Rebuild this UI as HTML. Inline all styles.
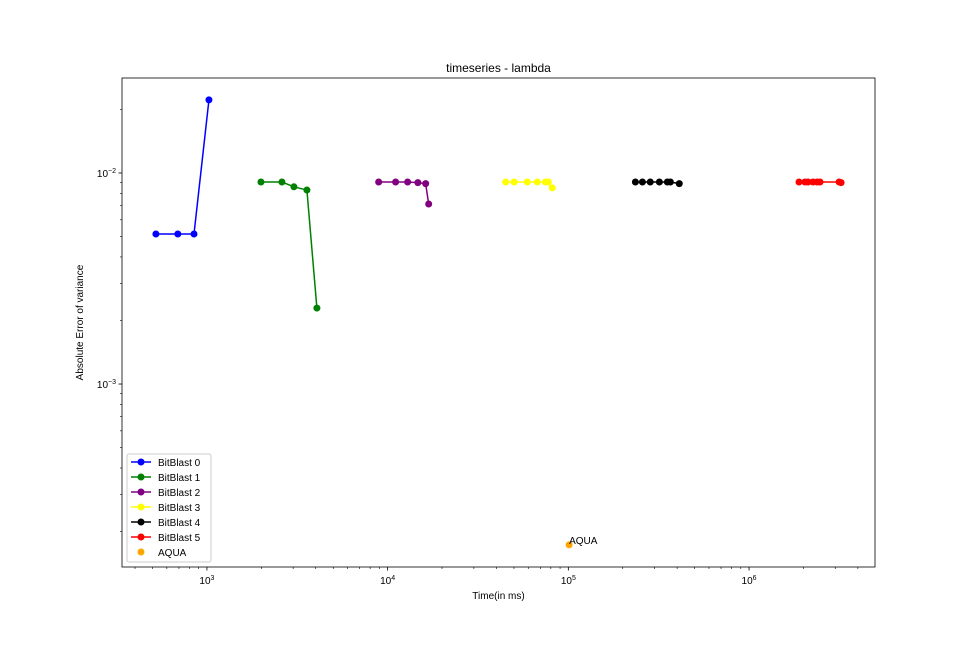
<!DOCTYPE html>
<html><head><meta charset="utf-8"><style>
body{margin:0;background:#fff;font-family:"Liberation Sans",sans-serif}
svg text{font-family:"Liberation Sans",sans-serif}
</style></head><body>
<svg id="chart" width="972" height="648" xmlns="http://www.w3.org/2000/svg">
<rect width="972" height="648" fill="#fff"/>
<g id="plot"></g>
</svg>
<script>
const seriesNames=["BitBlast 0","BitBlast 1","BitBlast 2","BitBlast 3","BitBlast 4","BitBlast 5"];
const seriesColors=["blue","green","purple","yellow","black","red"];
const xs0=[522,690,848,1026];
const ys0=[0.00514,0.00514,0.00514,0.0222];
const xs1=[1991,2600,3030,3575,4060];
const ys1=[0.00906,0.00906,0.0086,0.0083,0.00229];
const xs2=[8920,11070,12900,14700,16230,16870];
const ys2=[0.00906,0.00906,0.00906,0.009,0.0089,0.00713];
const xs3=[45000,50100,59300,67300,74600,77500,81500];
const ys3=[0.00906,0.00906,0.00906,0.00906,0.00906,0.00906,0.0085];
const xs4=[235000,257000,284000,319000,353000,367000,411000];
const ys4=[0.00906,0.00906,0.00906,0.00906,0.00906,0.00906,0.0089];
const xs5=[1890000,2040000,2120000,2260000,2380000,2470000,3150000,3230000];
const ys5=[0.00906,0.00906,0.00906,0.00906,0.00906,0.00906,0.00906,0.0090];
const aquaX=[101000];
const aquaY=[0.000173];
const xTickExps=[3,4,5,6];
const yTickExps=[-2,-3];

const L=122,R=875,T=78,B=567;
const xmin=2.53,xmax=6.697,ymin=-3.867,ymax=-1.55;
const X=v=>L+(Math.log10(v)-xmin)/(xmax-xmin)*(R-L);
const Y=v=>B-(Math.log10(v)-ymin)/(ymax-ymin)*(B-T);
const NS="http://www.w3.org/2000/svg";
const g=document.getElementById('plot');
function mk(t,a,p){const e=document.createElementNS(NS,t);for(const k in a)e.setAttribute(k,a[k]);(p||g).appendChild(e);return e;}

let fr=mk('rect',{x:L,y:T,width:R-L,height:B-T,fill:'none',stroke:'#000','stroke-width':0.8});



for(let d=2;d<=6;d++){for(let m=1;m<10;m++){const v=m*Math.pow(10,d);const lv=Math.log10(v);if(lv<xmin||lv>xmax)continue;const x=X(v);
 let t=mk('line',{x1:x,x2:x,y1:B,y2:B+(m==1?3.5:2),stroke:'#000','stroke-width':m==1?0.8:0.6});
 
 }}
xTickExps.forEach(e=>{const x=X(Math.pow(10,e));
 let t=mk('text',{x:x,y:B+17,'font-size':10,'text-anchor':'middle'});
 t.appendChild(document.createTextNode('10'));
 let s=mk('tspan',{dy:-4,'font-size':7},t);s.textContent=String(e);
 
 });
for(let d=-4;d<=-2;d++){for(let m=1;m<10;m++){const v=m*Math.pow(10,d);const lv=Math.log10(v);if(lv<ymin||lv>ymax)continue;const y=Y(v);
 let t=mk('line',{x1:L,x2:L-(m==1?3.5:2),y1:y,y2:y,stroke:'#000','stroke-width':m==1?0.8:0.6});
 
 }}
yTickExps.forEach(e=>{const y=Y(Math.pow(10,e));
 let t=mk('text',{x:L-6,y:y+4,'font-size':10,'text-anchor':'end'});
 t.appendChild(document.createTextNode('10'));
 let s=mk('tspan',{dy:-4,'font-size':7},t);s.textContent='\u2212'+Math.abs(e);
 
 });

let tt=mk('text',{x:(L+R)/2,y:72,'font-size':12,'text-anchor':'middle'});tt.textContent='timeseries - lambda';


let xt=mk('text',{x:(L+R)/2,y:599,'font-size':10,'text-anchor':'middle'});xt.textContent='Time(in ms)';


let yt=mk('text',{x:0,y:0,'font-size':10,'text-anchor':'middle',transform:`translate(83,${(T+B)/2}) rotate(-90)`});yt.textContent='Absolute Error of variance';



const allX=[xs0,xs1,xs2,xs3,xs4,xs5],allY=[ys0,ys1,ys2,ys3,ys4,ys5];
allX.forEach((xs,i)=>{const ys=allY[i];
 let p=mk('polyline',{points:xs.map((v,j)=>X(v)+','+Y(ys[j])).join(' '),fill:'none',stroke:seriesColors[i],'stroke-width':1.5});
 
 
 xs.forEach((v,j)=>{let c=mk('circle',{cx:X(v),cy:Y(ys[j]),r:3.5,fill:seriesColors[i]});
  
  });});
aquaX.forEach((v,j)=>{let c=mk('circle',{cx:X(v),cy:Y(aquaY[j]),r:3.5,fill:'orange'});
 
 
 let t=mk('text',{x:X(v),y:Y(aquaY[j])-1,'font-size':10});t.textContent='AQUA';
 
 });

let lg=mk('rect',{x:127,y:454,width:84,height:108,fill:'#fff',stroke:'#ccc','stroke-width':1,rx:2});


seriesNames.forEach((n,i)=>{const y=462+i*15;
 let l=mk('line',{x1:131,x2:151,y1:y,y2:y,stroke:seriesColors[i],'stroke-width':1.5});
 
 
 let c=mk('circle',{cx:141,cy:y,r:3.5,fill:seriesColors[i]});
 
 
 let t=mk('text',{x:158,y:y+4,'font-size':10});t.textContent=n;
 
 });
{const y=552;let c=mk('circle',{cx:141,cy:y,r:3.5,fill:'orange'});
 
 
 let t=mk('text',{x:158,y:y+4,'font-size':10});t.textContent='AQUA';
 
 }
</script>
</body></html>
